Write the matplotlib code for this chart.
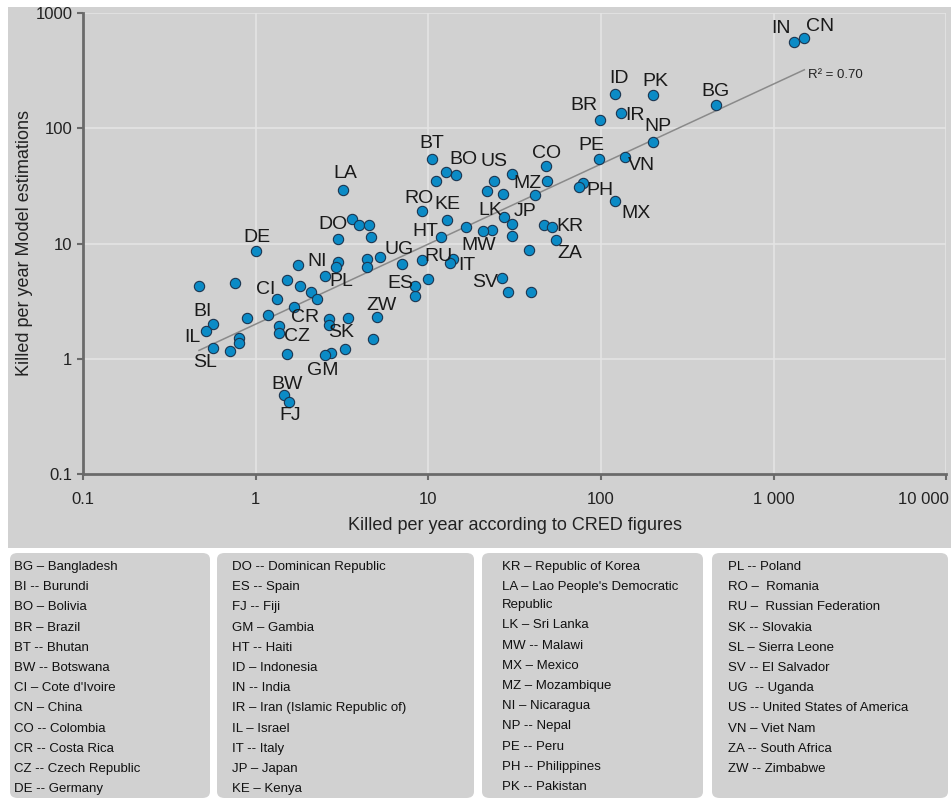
import matplotlib
matplotlib.use("Agg")
import matplotlib.pyplot as plt
from matplotlib.patches import FancyBboxPatch, Rectangle
from matplotlib.transforms import ScaledTranslation
import numpy as np

# countries with a code label: killed per year (CRED) vs model estimate
codes = ["IN", "CN", "ID", "PK", "BG", "BR", "IR", "NP", "PE", "VN", "PH", "MX",
         "CO", "MZ", "US", "BO", "BT", "RO", "KE", "HT", "LK", "JP", "KR", "ZA",
         "MW", "RU", "IT", "SV", "UG", "ES", "ZW", "SK", "GM", "PL", "NI", "CI",
         "CR", "CZ", "BI", "IL", "SL", "BW", "FJ", "DO", "DE", "LA"]
cred = [1307, 1506, 120.5, 200, 463, 98.3, 130, 199, 97.5, 138, 75.0, 121,
        47.9, 41.5, 30.6, 14.5, 10.55, 9.17, 12.85, 11.9, 27.6, 30.6, 52.3, 55.0,
        20.7, 9.21, 13.4, 26.8, 7.08, 8.42, 5.05, 2.68, 2.53, 2.54, 1.76, 1.33,
        1.66, 1.37, 0.570, 0.517, 0.567, 1.46, 1.57, 3.0, 1.0, 3.22]
model = [561, 608, 199, 194, 159, 119, 136, 76.2, 54.0, 56.1, 30.8, 23.3,
         46.9, 26.1, 40.0, 39.2, 54.5, 19.2, 16.0, 11.4, 16.9, 14.9, 13.9, 10.7,
         12.8, 7.15, 6.76, 5.04, 6.58, 4.28, 2.30, 1.96, 1.07, 5.22, 6.47, 3.27,
         2.81, 1.68, 2.0, 1.74, 1.24, 0.487, 0.418, 11.0, 8.55, 29.4]

# countries plotted without a label
other_cred = [0.471, 0.764, 1.52, 1.81, 3.0, 2.93, 2.10, 2.28, 1.18, 0.893,
              0.803, 0.803, 0.709, 1.37, 1.52, 2.68, 3.43, 3.31, 2.75, 4.81,
              4.42, 4.42, 5.26, 3.62, 3.99, 4.56, 4.66, 9.97, 8.42, 11.1,
              12.6, 16.6, 23.4, 24.1, 21.9, 27.2, 48.9, 30.7, 38.4, 46.8,
              78.8, 14.0, 28.9, 39.5]
other_model = [4.27, 4.54, 4.81, 4.27, 6.90, 6.22, 3.79, 3.31, 2.41, 2.24,
               1.52, 1.37, 1.17, 1.92, 1.11, 2.22, 2.24, 1.22, 1.12, 1.48,
               7.37, 6.22, 7.64, 16.4, 14.6, 14.4, 11.4, 4.96, 3.48, 35.1,
               42.1, 13.9, 13.1, 34.8, 28.5, 26.8, 35.2, 11.7, 8.77, 14.4,
               33.4, 7.37, 3.81, 3.76]

x_ticks = [0.1, 1, 10, 100, 1000, 10000]
x_tick_labels = ["0.1", "1", "10", "100", "1 000", "10 000"]
y_ticks = [0.1, 1, 10, 100, 1000]
y_tick_labels = ["0.1", "1", "10", "100", "1000"]

legend_cols = [
    ["BG \u2013 Bangladesh", "BI -- Burundi", "BO \u2013 Bolivia", "BR \u2013 Brazil",
     "BT -- Bhutan", "BW -- Botswana", "CI \u2013 Cote d'Ivoire", "CN \u2013 China",
     "CO -- Colombia", "CR -- Costa Rica", "CZ -- Czech Republic", "DE -- Germany"],
    ["DO -- Dominican Republic", "ES -- Spain", "FJ -- Fiji", "GM \u2013 Gambia",
     "HT -- Haiti", "ID \u2013 Indonesia", "IN -- India",
     "IR \u2013 Iran (Islamic Republic of)", "IL \u2013 Israel", "IT -- Italy",
     "JP \u2013 Japan", "KE \u2013 Kenya"],
    ["KR \u2013 Republic of Korea", "LA \u2013 Lao People's Democratic\nRepublic",
     "LK \u2013 Sri Lanka", "MW -- Malawi", "MX \u2013 Mexico", "MZ \u2013 Mozambique",
     "NI \u2013 Nicaragua", "NP -- Nepal", "PE -- Peru", "PH -- Philippines",
     "PK -- Pakistan"],
    ["PL -- Poland", "RO \u2013  Romania", "RU \u2013  Russian Federation",
     "SK -- Slovakia", "SL \u2013 Sierra Leone", "SV -- El Salvador", "UG  -- Uganda",
     "US -- United States of America", "VN \u2013 Viet Nam", "ZA -- South Africa",
     "ZW -- Zimbabwe"],
]

# label placement around each point, in pixels
label_offsets = {
    "IN": (-13, 13), "CN": (16, 11), "ID": (4, 15), "PK": (2, 14), "BG": (0, 14),
    "BR": (-16, 14), "IR": (14, -3), "NP": (5, 15), "PE": (-8, 14), "VN": (16, -8),
    "PH": (21, -3), "MX": (21, -12), "CO": (1, 13), "MZ": (-7, 12), "US": (-18, 13),
    "BO": (7, 16), "BT": (0, 15), "RO": (-3, 12), "KE": (0, 15), "HT": (-16, 5),
    "LK": (-14, 7), "JP": (13, 12), "KR": (18, 1), "ZA": (14, -13), "MW": (-4, -14),
    "RU": (16, 4), "IT": (17, -2), "SV": (-17, -5), "UG": (-3, 15), "ES": (-15, 2),
    "ZW": (5, 12), "SK": (12, -7), "GM": (-2, -15), "PL": (16, -5), "NI": (19, 4),
    "CI": (-11, 10), "CR": (12, -10), "CZ": (18, -4), "BI": (-11, 13), "IL": (-14, -6),
    "SL": (-8, -15), "BW": (3, 10), "FJ": (1, -13), "DO": (-5, 14), "DE": (1, 14),
    "LA": (2, 16),
}

plt.rcParams["font.family"] = ["Liberation Sans", "DejaVu Sans"]
W, H = 951, 800
fig = plt.figure(figsize=(W / 100, H / 100), dpi=100, facecolor="white")

panel = "#d1d1d1"
fig.patches.append(Rectangle((8 / W, 1 - 548 / H), 943 / W, 541 / H,
                             transform=fig.transFigure, facecolor=panel,
                             edgecolor="none", zorder=0))

ax = fig.add_axes([82.8 / W, 1 - 474 / H, (946.3 - 82.8) / W, (474 - 13) / H])
ax.set_zorder(2)
ax.set_facecolor("none")
ax.set_xscale("log")
ax.set_yscale("log")
ax.set_xlim(0.1, 10000)
ax.set_ylim(0.1, 1000)
ax.grid(True, which="major", color="#e4e4e4", linewidth=1.2)
ax.set_axisbelow(True)
ax.minorticks_off()
ax.set_xticks(x_ticks, x_tick_labels)
ax.set_yticks(y_ticks, y_tick_labels)
ax.tick_params(axis="both", colors="#6a6a6a", labelcolor="#222222",
               labelsize=12, length=4, width=1.5)
ax.tick_params(axis="x", pad=9)
# keep the last x label inside the figure
last = ax.get_xticklabels()[-1]
last.set_horizontalalignment("right")
last.set_transform(last.get_transform() + ScaledTranslation(3 / 100, 0, fig.dpi_scale_trans))
for side in ["top", "right"]:
    ax.spines[side].set_visible(False)
for side in ["left", "bottom"]:
    ax.spines[side].set_color("#6a6a6a")
    ax.spines[side].set_linewidth(2)

ax.set_xlabel("Killed per year according to CRED figures", fontsize=13,
              color="#222222", labelpad=7)
ax.set_ylabel("Killed per year Model estimations", fontsize=13,
              color="#222222", labelpad=2)

# power trendline fitted on the log values of all points
all_x = np.array(cred + other_cred)
all_y = np.array(model + other_model)
slope, icpt = np.polyfit(np.log10(all_x), np.log10(all_y), 1)
fx = np.array([all_x.min(), all_x.max()])
fy = 10 ** (icpt + slope * np.log10(fx))
ax.plot(fx, fy, color="#8a8a8a", linewidth=1.1, zorder=2)
ax.annotate("R\u00b2 = 0.70", (fx[-1], fy[-1]), xytext=(4, -5),
            textcoords="offset pixels", ha="left", va="center",
            fontsize=9.5, color="#222222")

dot = dict(s=55, color="#0b8bc6", edgecolor="#1b3550", linewidth=0.8, zorder=3)
ax.scatter(other_cred, other_model, **dot)
ax.scatter(cred, model, **dot)

for code, xv, yv in zip(codes, cred, model):
    dx, dy = label_offsets[code]
    ax.annotate(code, (xv, yv), xytext=(dx, dy), textcoords="offset pixels",
                ha="center", va="center", fontsize=14, color="#1a1a1a", zorder=4)

# legend boxes with the country codes
boxes = [(10, 210), (217, 474), (482, 703), (712, 948)]
text_x = [14, 232, 502, 728]
box_top, box_bottom = 553, 798
for (x0, x1), tx, lines in zip(boxes, text_x, legend_cols):
    fig.patches.append(FancyBboxPatch((x0 / W, 1 - box_bottom / H), (x1 - x0) / W,
                                      (box_bottom - box_top) / H,
                                      boxstyle="round,pad=0,rounding_size=0.008",
                                      transform=fig.transFigure, facecolor=panel,
                                      edgecolor="none", zorder=0))
    y = 567
    for entry in lines:
        parts = entry.split("\n")
        for k, part in enumerate(parts):
            fig.text(tx / W, 1 - y / H, part, ha="left", va="center",
                     fontsize=9.5, color="#111111")
            y += 18 if k < len(parts) - 1 else 20.2

fig.savefig("out.png", dpi=100, facecolor="white")
